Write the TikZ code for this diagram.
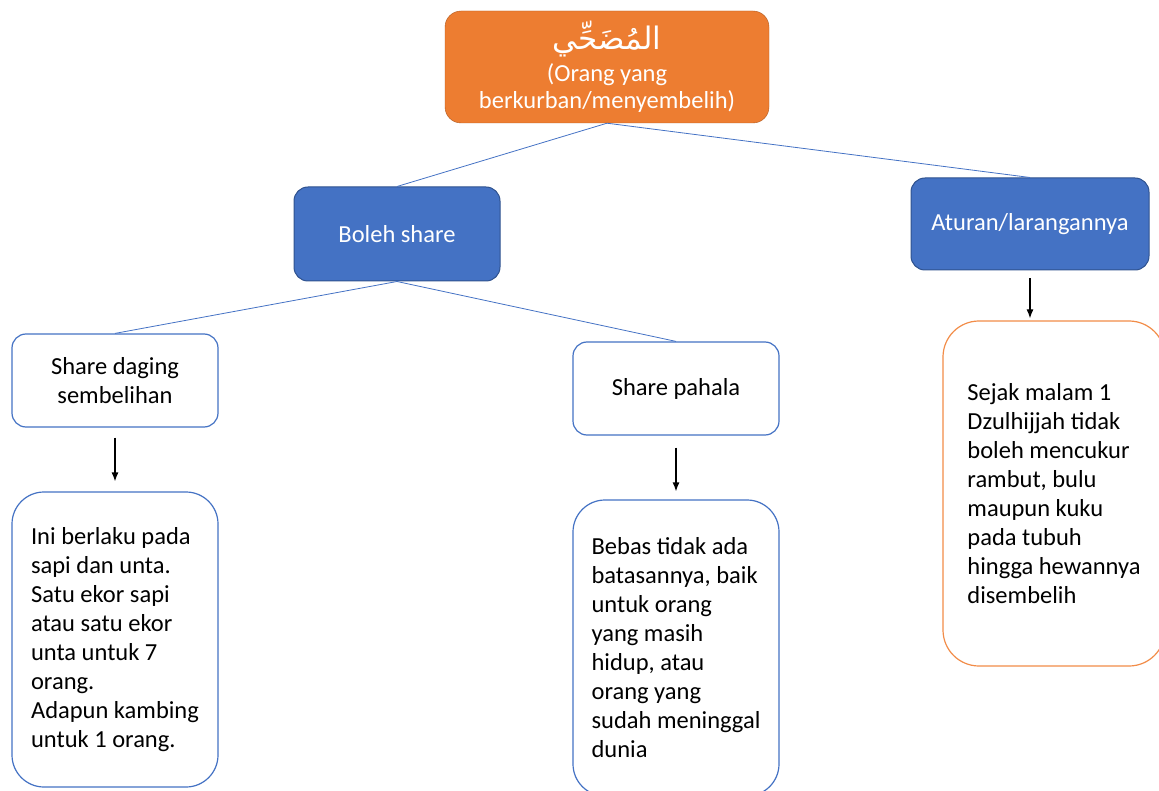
\documentclass[tikz,border=0pt]{standalone}
\usepackage{fontspec}
\setmainfont{Carlito}
\newfontfamily\arabicfont[Script=Arabic]{DejaVu Sans}
\TeXXeTstate=1
\usetikzlibrary{arrows.meta,positioning}
\definecolor{OfficeBlue}{RGB}{68,114,196}
\definecolor{DeepBlue}{RGB}{47,82,143}
\definecolor{OfficeOrange}{RGB}{237,125,49}
\definecolor{DeepOrange}{RGB}{174,90,33}
\definecolor{PaleOrange}{RGB}{242,140,72}
\tikzset{
  basebox/.style={rectangle,inner sep=0pt,font=\fontsize{24.5}{29}\selectfont},
  headbox/.style={basebox,fill=OfficeOrange,draw=DeepOrange,text=white,
    rounded corners=16pt,align=center,font=\fontsize{24.5}{27}\selectfont},
  catbox/.style={basebox,fill=OfficeBlue,draw=DeepBlue,line width=1pt,text=white,rounded corners=14pt},
  subbox/.style={basebox,fill=white,draw=OfficeBlue,line width=1.2pt,rounded corners=14pt,align=center},
  notebox/.style={basebox,fill=white,draw=OfficeBlue,line width=1.2pt,rounded corners=32pt,align=left},
  link/.style={draw=OfficeBlue,line width=0.8pt},
  pointer/.style={draw=black,line width=1.2pt,-{Latex[length=9pt,width=7pt]}}
}
\begin{document}
\begin{tikzpicture}[x=1pt,y=-1pt]
  \useasboundingbox (0,0) rectangle (1159,791);
  % top
  \node[headbox,minimum width=324pt,minimum height=112pt] (mudhahhi) at (607,67)
    {{\arabicfont\fontsize{31}{34}\selectfont\beginR المُضَحِّي\endR}\\[5pt](Orang yang\\berkurban/menyembelih)};
  % second level
  \node[catbox,minimum width=206pt,minimum height=94pt] (boleh) at (397,234) {Boleh share};
  \node[catbox,minimum width=238pt,minimum height=92pt] (aturan) at (1030,224) {Aturan/larangannya};
  % third level
  \node[subbox,minimum width=206pt,minimum height=93pt] (daging) at (115,380.5) {Share daging\\sembelihan};
  \node[subbox,minimum width=206pt,minimum height=93pt] (pahala) at (676,388.5) {Share pahala};
  % notes
  \node[notebox,minimum width=206pt,minimum height=295pt] (isidaging) at (115,639.5)
    {Ini berlaku pada\\sapi dan unta.\\Satu ekor sapi\\atau satu ekor\\unta untuk 7\\orang.\\Adapun kambing\\untuk 1 orang.};
  \node[notebox,minimum width=206pt,minimum height=296pt] (isipahala) at (676,648)
    {Bebas tidak ada\\batasannya, baik\\untuk orang\\yang masih\\hidup, atau\\orang yang\\sudah meninggal\\dunia};
  \node[notebox,draw=PaleOrange,rounded corners=36pt,minimum width=222pt,minimum height=345pt] (isiaturan) at (1054,493.5)
    {Sejak malam 1\\Dzulhijjah tidak\\boleh mencukur\\rambut, bulu\\maupun kuku\\pada tubuh\\hingga hewannya\\disembelih};
  % links
  \draw[link] (mudhahhi.south) -- (boleh.north);
  \draw[link] (mudhahhi.south) -- (aturan.north);
  \draw[link] (boleh.south) -- (daging.north);
  \draw[link] (boleh.south) -- (pahala.north);
  % arrows
  \draw[pointer] ([yshift=-10pt]daging.south) -- ([yshift=10pt]isidaging.north);
  \draw[pointer] ([yshift=-12pt]pahala.south) -- ([yshift=8pt]isipahala.north);
  \draw[pointer] ([yshift=-8pt]aturan.south) -- ([yshift=2pt]aturan.south |- isiaturan.north);
\end{tikzpicture}
\end{document}
